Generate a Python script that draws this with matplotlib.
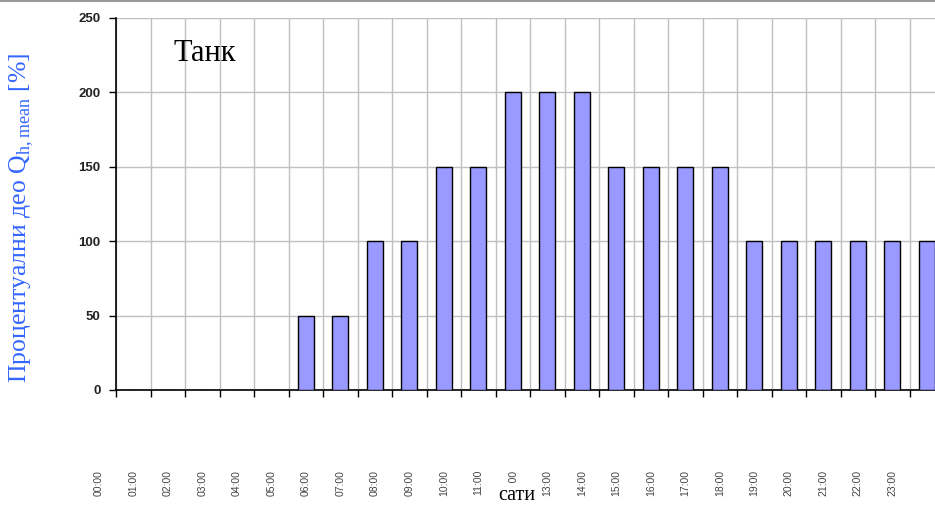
import numpy as np
import matplotlib.pyplot as plt
import matplotlib.transforms as mtransforms

plt.rcParams['mathtext.fontset'] = 'custom'
plt.rcParams['mathtext.rm'] = 'Liberation Serif'

# hourly consumption share, %, one bar per hour slot
hours = np.arange(1, 25)
share = [0, 0, 0, 0, 0, 50, 50, 100, 100, 150, 150, 200,
         200, 200, 150, 150, 150, 150, 100, 100, 100, 100, 100, 100]
hour_labels = ['%02d:00' % h for h in range(24)]

fig = plt.figure(figsize=(9.35, 5.08), dpi=100)
ax = fig.add_axes([116 / 935, 118 / 508, 828 / 935, 372 / 508])

ax.bar(hours, share, width=0.45, color='#9999ff', edgecolor='black', linewidth=1.0, zorder=3)

ax.set_xlim(0.5, 24.5)
ax.set_ylim(0, 250)
ax.set_yticks(np.arange(0, 251, 50))
ax.set_xticks(np.arange(0.5, 25, 1))
ax.set_xticklabels([])
ax.grid(True, color='#c0c0c0', linewidth=1.0, zorder=0)

for s in ['top', 'right']:
    ax.spines[s].set_visible(False)
for s in ['left', 'bottom']:
    ax.spines[s].set_color('black')
    ax.spines[s].set_linewidth(1.2)
ax.tick_params(axis='both', direction='out', length=5, width=1, color='black')
ax.tick_params(axis='y', pad=6)
for t in ax.get_yticklabels():
    t.set_fontfamily('Liberation Sans')
    t.set_fontweight('bold')
    t.set_fontsize(9.5)
    t.set_color('#222222')

# rotated hour labels under the axis
trans = mtransforms.blended_transform_factory(ax.transData, ax.transAxes)
for k, lab in enumerate(hour_labels):
    ax.text(k, -0.215, lab, transform=trans, rotation=90, ha='center', va='top',
            fontsize=7.5, family='Liberation Sans', color='#444444', clip_on=False)

ax.text(0.069, 0.905, 'Танк', transform=ax.transAxes, fontsize=22,
        family='Liberation Serif', va='center', ha='left')
fig.text(517 / 935, 1 - 495 / 508, 'сати', fontsize=14.5, family='Liberation Serif',
         ha='center', va='center', zorder=5,
         bbox=dict(facecolor='white', edgecolor='none', pad=1.5))
fig.text(22 / 935, 1 - 218 / 508, 'Процентуални део Q$_{\\mathrm{h,mean}}$ [%]',
         rotation=90, fontsize=18.5, family='Liberation Serif', color='#3366ff',
         ha='center', va='center')

# thin frame line along the top edge
fig.add_artist(plt.Line2D([0, 1], [0.998, 0.998], color='#999999', linewidth=1.5,
                          transform=fig.transFigure))

fig.savefig('out.png', dpi=100)
